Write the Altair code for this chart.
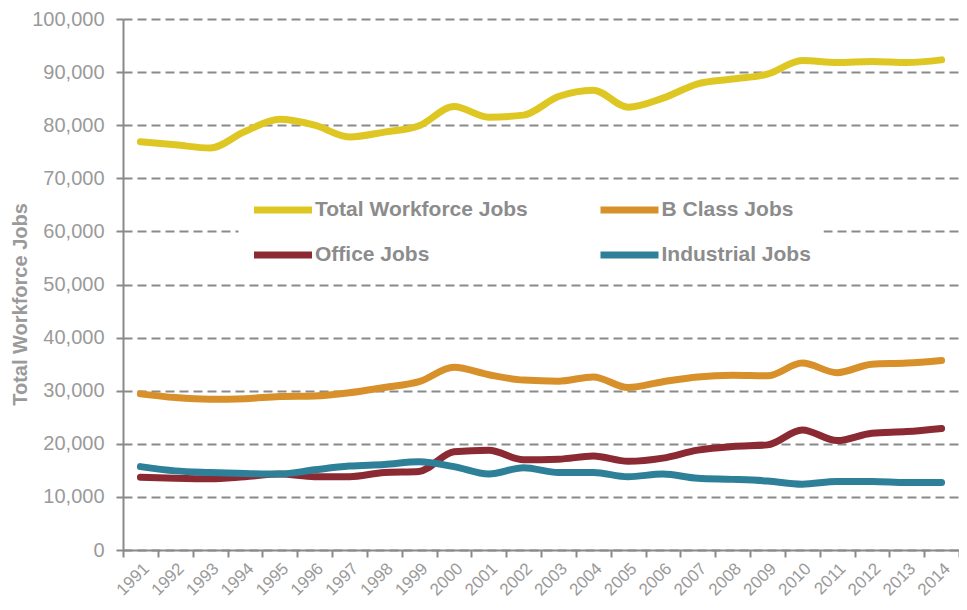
import altair as alt
import pandas as pd

years = [str(y) for y in range(1991, 2015)]

total_jobs = [76900, 76300, 75700, 78800, 81100, 80000, 77800, 78700, 79900, 83500,
              81500, 81900, 85400, 86600, 83400, 85100, 87800, 88700, 89600, 92200,
              91800, 92000, 91800, 92300]
b_class_jobs = [29400, 28700, 28400, 28500, 28900, 29000, 29600, 30600, 31700, 34400,
                33000, 32000, 31800, 32600, 30600, 31700, 32600, 32900, 32800, 35200,
                33400, 35000, 35200, 35700]
office_jobs = [13700, 13500, 13400, 13800, 14300, 13800, 13800, 14600, 14800, 18500,
               18800, 17000, 17100, 17700, 16700, 17300, 18800, 19500, 19800, 22600,
               20600, 22000, 22300, 22900]
industrial_jobs = [15700, 14900, 14600, 14400, 14300, 15100, 15800, 16100, 16600, 15700,
                   14300, 15500, 14600, 14600, 13800, 14300, 13500, 13300, 13000, 12400,
                   12900, 12900, 12700, 12700]

# legend order (column-major fill gives rows: Total / B Class, Office / Industrial)
series_names = ["Total Workforce Jobs", "Office Jobs", "B Class Jobs", "Industrial Jobs"]
series_colors = ["#DEC723", "#8B2A33", "#D8912A", "#2E8099"]
y_ticks = list(range(0, 100001, 10000))

rows = []
for name, vals in zip(
    ["Total Workforce Jobs", "B Class Jobs", "Office Jobs", "Industrial Jobs"],
    [total_jobs, b_class_jobs, office_jobs, industrial_jobs],
):
    for yr, v in zip(years, vals):
        rows.append({"year": yr, "value": v, "series": name})
df = pd.DataFrame(rows)

FONT = "Liberation Sans"
AXIS_GRAY = "#8a8a8a"
LABEL_GRAY = "#9a9a9a"

chart = alt.Chart(df).mark_line(
    strokeWidth=7, interpolate="monotone", strokeCap="round", strokeJoin="round"
).encode(
    x=alt.X(
        "year:O",
        sort=years,
        scale=alt.Scale(type="band", paddingInner=0, paddingOuter=0),
        bandPosition=0.5,
        axis=alt.Axis(
            title=None, tickBand="extent", labelAngle=-45, labelFontSize=17,
            labelColor=LABEL_GRAY, labelFont=FONT, domainColor=AXIS_GRAY,
            domainWidth=2, tickColor=AXIS_GRAY, tickWidth=2, tickSize=7,
            labelPadding=3, grid=False,
        ),
    ),
    y=alt.Y(
        "value:Q",
        scale=alt.Scale(domain=[0, 100000], nice=False),
        axis=alt.Axis(
            values=y_ticks, format=",.0f", title="Total Workforce Jobs",
            titleFontSize=20, titleFontWeight="bold", titleColor=LABEL_GRAY,
            titleFont=FONT, titleX=-93, titleY=285, labelFontSize=20,
            labelColor=LABEL_GRAY, labelFont=FONT, labelPadding=12, tickSize=7,
            tickColor=AXIS_GRAY, tickWidth=2, domainColor=AXIS_GRAY, domainWidth=2,
            grid=True, gridDash=[9, 5], gridColor=AXIS_GRAY, gridWidth=1.8,
        ),
    ),
    color=alt.Color(
        "series:N",
        sort=series_names,
        scale=alt.Scale(domain=series_names, range=series_colors),
        legend=alt.Legend(
            title=None, orient="none", legendX=115.5, legendY=161, columns=2,
            columnPadding=57.5, rowPadding=13, symbolType="M-1,0H3",
            symbolSize=841, symbolStrokeWidth=7, labelFontSize=21,
            labelFontWeight="bold", labelColor="#8c8c8c", labelFont=FONT,
            labelOffset=28.5, fillColor="white", padding=12, labelLimit=400,
        ),
    ),
).properties(
    width=836,
    height=531,
    autosize=alt.AutoSizeParams(type="none"),
    padding={"left": 115, "top": 11, "right": 0, "bottom": 48},
).configure_view(stroke=None)

chart.save("out.html", embed_options={"renderer": "svg", "actions": False})
